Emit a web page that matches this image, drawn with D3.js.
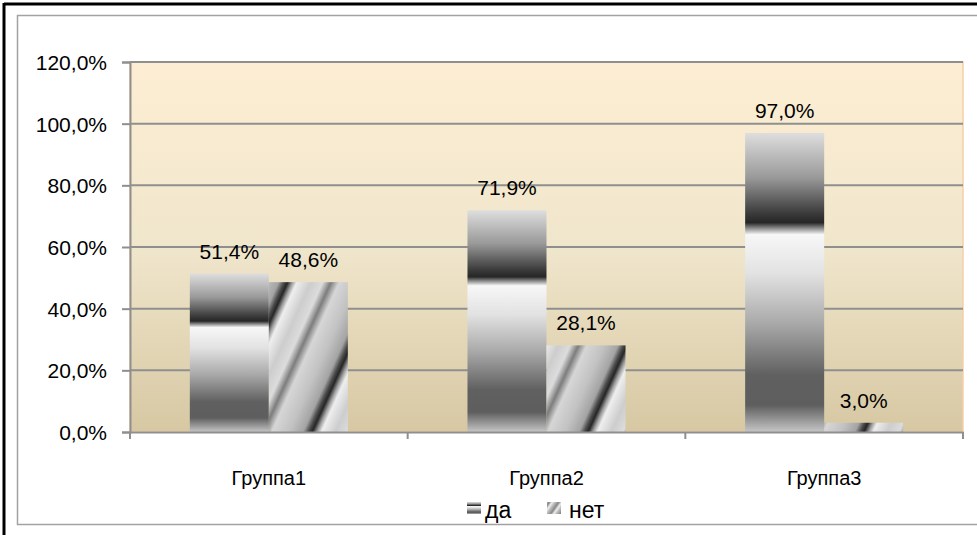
<!DOCTYPE html>
<html><head><meta charset="utf-8">
<script src="https://cdn.jsdelivr.net/npm/d3@7"></script>
<style>html,body{margin:0;padding:0;background:#fff;}svg{display:block;}</style>
</head><body>
<svg id="c" width="977" height="535"></svg>
<script>
const categories = ["Группа1", "Группа2", "Группа3"];
const seriesNames = ["да", "нет"];
const daValues = [51.4, 71.9, 97.0];
const netValues = [48.6, 28.1, 3.0];
const yTicks = [0, 20, 40, 60, 80, 100, 120];
const yTickLabels = ["0,0%", "20,0%", "40,0%", "60,0%", "80,0%", "100,0%", "120,0%"];
const dataLabels = [["51,4%", "71,9%", "97,0%"], ["48,6%", "28,1%", "3,0%"]];

const svg = d3.select("#c");
const FONT = "'Liberation Sans', Arial, sans-serif";
const plot = {left: 130, right: 963, top: 62, bottom: 432};

const defs = svg.append("defs");
const bg = defs.append("linearGradient").attr("id", "bg").attr("x1", 0).attr("y1", 0).attr("x2", 0).attr("y2", 1);
[[0, "#fdeed3"], [0.5, "#f0e6cc"], [1, "#d7c8a3"]].forEach(s => bg.append("stop").attr("offset", s[0]).attr("stop-color", s[1]));

const gDa = defs.append("linearGradient").attr("id", "gda").attr("x1", 0).attr("y1", 0).attr("x2", 0).attr("y2", 1);
[[0, "#dedede"], [0.15, "#999"], [0.27, "#3a3a3a"], [0.3, "#262626"], [0.315, "#777"], [0.34, "#f7f7f7"],
 [0.47, "#e2e2e2"], [0.64, "#a8a8a8"], [0.81, "#606060"], [0.91, "#5e5e5e"], [1, "#c6c6c6"]]
  .forEach(s => gDa.append("stop").attr("offset", s[0]).attr("stop-color", s[1]));

const nx = 0.91, ny = 0.41, period = 84, anchor = 379;
const gNet = defs.append("linearGradient").attr("id", "gnet").attr("gradientUnits", "userSpaceOnUse")
  .attr("spreadMethod", "repeat")
  .attr("x1", nx * anchor).attr("y1", ny * anchor)
  .attr("x2", nx * (anchor + period)).attr("y2", ny * (anchor + period));
[[0, "#262626"], [0.05, "#9a9a9a"], [0.1, "#eeeeee"], [0.25, "#cdcdcd"], [0.38, "#dcdcdc"], [0.47, "#7d7d7d"],
 [0.56, "#d6d6d6"], [0.75, "#c2c2c2"], [0.9, "#a4a4a4"], [0.96, "#4a4a4a"], [1, "#262626"]]
  .forEach(s => gNet.append("stop").attr("offset", s[0]).attr("stop-color", s[1]));
const gNetSmall = defs.append("linearGradient").attr("id", "gnets").attr("x1", 0).attr("y1", 0.3).attr("x2", 0.5).attr("y2", 0.6)
  .attr("spreadMethod", "repeat");
[[0, "#888"], [0.3, "#eee"], [0.6, "#bbb"], [1, "#888"]].forEach(s => gNetSmall.append("stop").attr("offset", s[0]).attr("stop-color", s[1]));

svg.append("line").attr("x1", 4).attr("y1", 4).attr("x2", 977).attr("y2", 4).attr("stroke", "#000").attr("stroke-width", 3);
svg.append("line").attr("x1", 4).attr("y1", 3).attr("x2", 4).attr("y2", 535).attr("stroke", "#000").attr("stroke-width", 3);
svg.append("path").attr("d", "M980,15.5 H17.5 V524.5 H980").attr("fill", "none").attr("stroke", "#a2a2a2").attr("stroke-width", 1.5);

const y = d3.scaleLinear().domain([0, 120]).range([plot.bottom, plot.top]);
const x0 = d3.scaleBand().domain(categories).range([plot.left, plot.right]).padding(0);
const x1 = d3.scaleBand().domain(seriesNames).range([0, x0.bandwidth()]).paddingInner(0).paddingOuter(0.757);

svg.append("rect").attr("x", plot.left).attr("y", plot.top).attr("width", plot.right - plot.left)
  .attr("height", plot.bottom - plot.top).attr("fill", "url(#bg)").attr("stroke", "#f4cfa9").attr("stroke-width", 1.5);

svg.append("g").selectAll("line").data(yTicks.filter(t => t > 0)).join("line")
  .attr("x1", plot.left).attr("x2", plot.right).attr("y1", d => y(d)).attr("y2", d => y(d))
  .attr("stroke", "#8f8f8f").attr("stroke-width", 2);

const yAxis = d3.axisLeft(y).tickValues(yTicks).tickSize(8).tickFormat((d, i) => yTickLabels[i]);
const gy = svg.append("g").attr("transform", `translate(${plot.left},0)`).call(yAxis);
gy.select(".domain").attr("stroke", "#8f8f8f").attr("stroke-width", 2);
gy.selectAll(".tick line").attr("stroke", "#8f8f8f").attr("stroke-width", 2);
gy.selectAll(".tick text").attr("x", -23).attr("dy", "0.36em").attr("font-family", FONT).attr("font-size", 21).attr("fill", "#000");

const series = [daValues, netValues];
const fills = ["url(#gda)", "url(#gnet)"];
series.forEach((vals, si) => {
  svg.append("g").selectAll("rect").data(vals).join("rect")
    .attr("x", (d, i) => x0(categories[i]) + x1(seriesNames[si]))
    .attr("y", d => y(d)).attr("width", x1.bandwidth())
    .attr("height", d => y(0) - y(d)).attr("fill", fills[si]);
  svg.append("g").selectAll("text").data(vals).join("text")
    .attr("x", (d, i) => x0(categories[i]) + x1(seriesNames[si]) + x1.bandwidth() / 2)
    .attr("y", d => y(d) - 15).attr("text-anchor", "middle")
    .attr("font-family", FONT).attr("font-size", 21).attr("fill", "#000")
    .text((d, i) => dataLabels[si][i]);
});

const xAxis = d3.axisBottom(x0).tickSize(0).tickFormat(d => d);
const gx = svg.append("g").attr("transform", `translate(0,${plot.bottom})`).call(xAxis);
gx.select(".domain").attr("stroke", "#8f8f8f").attr("stroke-width", 2);
gx.selectAll(".tick text").attr("y", 0).attr("dy", 53).attr("font-family", FONT).attr("font-size", 20).attr("fill", "#000");
svg.append("g").selectAll("line").data(categories.map(c => x0(c)).concat([plot.right])).join("line")
  .attr("x1", d => d).attr("x2", d => d).attr("y1", plot.bottom).attr("y2", plot.bottom + 7)
  .attr("stroke", "#8f8f8f").attr("stroke-width", 2);

const legend = [{name: seriesNames[0], fill: "url(#gda)", ix: 467, tx: 485},
                {name: seriesNames[1], fill: "url(#gnets)", ix: 547, tx: 569}];
const lg = svg.append("g");
legend.forEach(l => {
  lg.append("rect").attr("x", l.ix).attr("y", 502).attr("width", 14).attr("height", 12).attr("fill", l.fill);
  lg.append("text").attr("x", l.tx).attr("y", 518).attr("font-family", FONT).attr("font-size", 23).attr("fill", "#000").text(l.name);
});
</script>
</body></html>
